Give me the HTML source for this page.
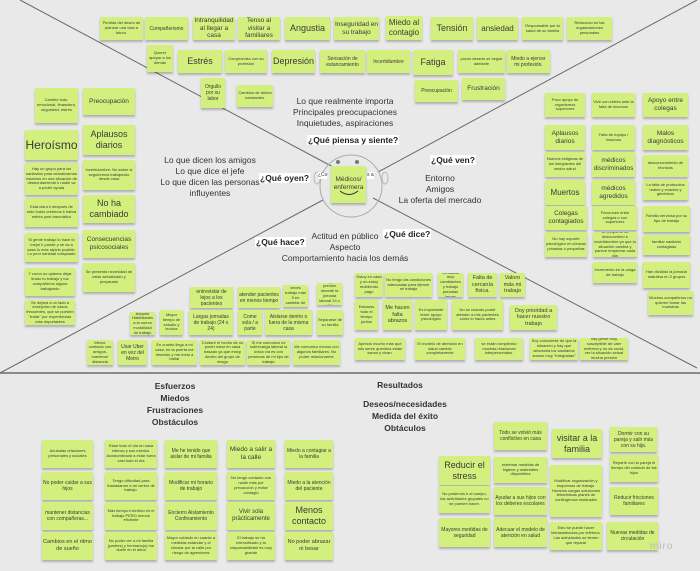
<!DOCTYPE html>
<html><head><meta charset="utf-8"><style>
body{margin:0;width:700px;height:571px;background:#e9e9e9;position:relative;overflow:hidden;font-family:"Liberation Sans",sans-serif;color:#3a3a3a}
.n{position:absolute;background:#d3ef7d;display:flex;align-items:center;justify-content:center;text-align:center;line-height:1.2;box-shadow:0 2px 2px rgba(0,0,0,.25);font-size:4px;overflow:hidden;padding:1px;box-sizing:border-box}
.m{font-size:6.5px}.b{font-size:9px}.B{font-size:12px}
.t{position:absolute;text-align:center;font-size:8.5px;line-height:11px;color:#333}
.h{position:absolute;font-weight:bold;font-size:8.5px;color:#222;background:#fff;padding:0 1px}
</style></head><body>
<svg width="700" height="571" style="position:absolute;left:0;top:0">
<g stroke="#6a6a6a" stroke-width="1" fill="none">
<line x1="20" y1="0" x2="335" y2="168"/>
<line x1="697" y1="0" x2="378" y2="172"/>
<line x1="323" y1="200" x2="0" y2="373"/>
<line x1="373" y1="198" x2="697" y2="368"/>
<line x1="0" y1="373" x2="700" y2="373" stroke-width="1.5"/>
<circle cx="351" cy="186" r="31" stroke="#aaa"/>
<ellipse cx="317" cy="178" rx="3" ry="6" stroke="#bbb"/>
<ellipse cx="385" cy="178" rx="3" ry="6" stroke="#bbb"/>
</g>
<circle cx="338" cy="162" r="2" fill="#777"/><circle cx="357" cy="162" r="2" fill="#777"/>
</svg>
<div class="n m" style="left:331px;top:166px;width:35px;height:37px;align-items:flex-start;padding-top:10px">Médicos/ enfermera</div>
<svg width="20" height="8" style="position:absolute;left:339px;top:190px"><path d="M1 1 Q10 8 19 1" stroke="#333" fill="none"/></svg>
<div class="t" style="left:318px;top:172px;font-size:5px;background:#fff;line-height:7px">¿Co</div>
<div class="t" style="left:367px;top:172px;font-size:5px;background:#fff;line-height:7px">s a</div>

<!-- top rows -->
<div class="n" style="left:100px;top:17px;width:43px;height:23px">Perdida del deseo de planear una vida a futuro.</div>
<div class="n" style="left:145px;top:17px;width:43px;height:23px;font-size:5px">Compañerismo</div>
<div class="n m" style="left:193px;top:17px;width:42px;height:23px">Intranquilidad al llegar a casa</div>
<div class="n m" style="left:238px;top:17px;width:42px;height:23px">Tenso al visitar a familiares</div>
<div class="n b" style="left:285px;top:17px;width:45px;height:23px">Angustia</div>
<div class="n m" style="left:334px;top:17px;width:45px;height:23px">Inseguridad en su trabajo</div>
<div class="n b" style="left:386px;top:16px;width:36px;height:24px;font-size:8px">Miedo al contagio</div>
<div class="n b" style="left:431px;top:17px;width:42px;height:23px">Tensión</div>
<div class="n b" style="left:477px;top:17px;width:41px;height:23px;font-size:8px">ansiedad</div>
<div class="n" style="left:522px;top:17px;width:41px;height:23px">Responsable por la salud de su familia</div>
<div class="n" style="left:567px;top:17px;width:45px;height:23px">Retroceso en las organizaciones personales</div>

<div class="n" style="left:147px;top:45px;width:26px;height:27px">Querer apoyar a los demás</div>
<div class="n b" style="left:178px;top:50px;width:44px;height:23px">Estrés</div>
<div class="n" style="left:225px;top:50px;width:42px;height:23px">Compromiso con su profesión</div>
<div class="n b" style="left:272px;top:50px;width:43px;height:23px">Depresión</div>
<div class="n" style="left:320px;top:50px;width:45px;height:23px;font-size:5px">Sensación de estancamiento</div>
<div class="n" style="left:367px;top:50px;width:43px;height:23px;font-size:5px">Incertidumbre</div>
<div class="n b" style="left:413px;top:50px;width:40px;height:25px">Fatiga</div>
<div class="n" style="left:458px;top:50px;width:47px;height:23px">pocos deseos se seguir adelante</div>
<div class="n" style="left:507px;top:50px;width:43px;height:23px;font-size:5px">Miedo a ejercer mi profesión.</div>
<div class="n" style="left:201px;top:78px;width:24px;height:30px;font-size:5px">Orgullo por su labor</div>
<div class="n" style="left:237px;top:85px;width:36px;height:22px">Cambios de ánimo constantes.</div>
<div class="n" style="left:415px;top:80px;width:43px;height:22px;font-size:5px">Preocupación</div>
<div class="n m" style="left:462px;top:78px;width:43px;height:22px">Frustración</div>

<div class="t" style="left:265px;top:96px;width:160px">Lo que realmente importa<br>Principales preocupaciones<br>Inquietudes, aspiraciones</div>
<div class="h" style="left:307px;top:135px">¿Qué piensa y siente?</div>

<!-- left -->
<div class="n" style="left:35px;top:88px;width:43px;height:35px">Cambió todo, emocional, financiera, seguridad, estrés</div>
<div class="n m" style="left:83px;top:88px;width:52px;height:27px">Preocupación</div>
<div class="n B" style="left:25px;top:130px;width:53px;height:30px">Heroísmo</div>
<div class="n b" style="left:83px;top:125px;width:52px;height:30px">Aplausos diarios</div>
<div class="n" style="left:25px;top:163px;width:53px;height:32px">Hay un grupo para los sanitarios para actualizarnos estamos en una situación de desbordamiento k nadie va a poder ayuda</div>
<div class="n" style="left:83px;top:160px;width:52px;height:30px">Incertidumbre: No saber si seguiremos trabajando desde casa</div>
<div class="n" style="left:25px;top:198px;width:53px;height:29px">Está claro k después de esto todos creemos k habrá estrés post traumático</div>
<div class="n b" style="left:83px;top:195px;width:52px;height:28px">No ha cambiado</div>
<div class="n" style="left:25px;top:233px;width:53px;height:29px">Si gente trabajo lo hace lo mejor k puede y se va a casa lo más rápido posible. Lo peor sanidad colapsado</div>
<div class="n m" style="left:83px;top:230px;width:52px;height:28px">Consecuencias psicosociales</div>
<div class="n" style="left:25px;top:268px;width:50px;height:28px">Y como no quieres dejar tirado tu trabajo y tus compañeros sigues trabajando</div>
<div class="n" style="left:83px;top:263px;width:52px;height:29px">Se presenta necesidad de estar actualizado y preparado</div>
<div class="n" style="left:25px;top:300px;width:50px;height:25px">Se dejará a un lado a excepción de casos frecuentes, que se pueden "tratar" por experiencias más importantes</div>

<div class="t" style="left:160px;top:155px;width:100px">Lo que dicen los amigos<br>Lo que dice el jefe<br>Lo que dicen las personas influyentes</div>
<div class="h" style="left:259px;top:173px">¿Qué oyen?</div>
<div class="h" style="left:255px;top:237px">¿Qué hace?</div>
<div class="t" style="left:270px;top:231px;width:150px">Actitud en público<br>Aspecto<br>Comportamiento hacia los demás</div>
<div class="h" style="left:383px;top:229px">¿Qué dice?</div>
<div class="h" style="left:430px;top:155px">¿Qué ven?</div>
<div class="t" style="left:395px;top:173px;width:90px">Entorno<br>Amigos<br>La oferta del mercado</div>

<!-- right -->
<div class="n" style="left:545px;top:93px;width:40px;height:24px">Poco apoyo de organismos superiores</div>
<div class="n" style="left:592px;top:93px;width:43px;height:24px">Vivir con estrés ante la falta de insumos</div>
<div class="n m" style="left:643px;top:93px;width:45px;height:24px">Apoyo entre colegas</div>
<div class="n m" style="left:545px;top:125px;width:40px;height:25px">Aplausos diarios</div>
<div class="n" style="left:592px;top:125px;width:43px;height:25px">Falta de equipo / insumos</div>
<div class="n m" style="left:643px;top:125px;width:45px;height:25px">Malos diagnósticos</div>
<div class="n" style="left:545px;top:152px;width:40px;height:25px">Nuevos estigmas de los integrantes del sector salud</div>
<div class="n m" style="left:592px;top:152px;width:43px;height:25px">médicos discriminados</div>
<div class="n" style="left:643px;top:155px;width:45px;height:22px">desconocimiento de técnicas</div>
<div class="n b" style="left:545px;top:180px;width:40px;height:25px;font-size:8px">Muertos</div>
<div class="n m" style="left:592px;top:180px;width:43px;height:25px">médicos agredidos</div>
<div class="n" style="left:643px;top:180px;width:45px;height:20px">La falta de protocolos reales y exactos y genéricos</div>
<div class="n m" style="left:545px;top:206px;width:42px;height:24px">Colegas contagiados</div>
<div class="n" style="left:593px;top:206px;width:44px;height:24px">Fricciones entre colegas o con superiores</div>
<div class="n" style="left:643px;top:206px;width:47px;height:26px">Familia nerviosa por su tipo de trabajo</div>
<div class="n" style="left:545px;top:232px;width:42px;height:25px">No hay soporte psicológico en clínicas privadas o pequeñas</div>
<div class="n" style="left:593px;top:232px;width:44px;height:25px">Un pequeño de desconcierto e incertidumbre ya que la situación cambia y parece empeorar cada día</div>
<div class="n" style="left:643px;top:235px;width:47px;height:20px">familiar sanitario contagiado</div>
<div class="n" style="left:593px;top:262px;width:44px;height:21px">Incremento en la carga de trabajo</div>
<div class="n" style="left:643px;top:262px;width:47px;height:26px">Han dividido la jornada matutina en 2 grupos</div>
<div class="n" style="left:648px;top:291px;width:45px;height:24px">Muchos compañeros no quieren tomar las muestras</div>

<!-- qué dice -->
<div class="n" style="left:355px;top:273px;width:28px;height:24px">Estoy en casa y no estoy recibiendo pago</div>
<div class="n" style="left:385px;top:273px;width:47px;height:24px">No tengo las condiciones adecuadas para ejercer mi trabajo</div>
<div class="n" style="left:438px;top:273px;width:25px;height:24px">Jornadas muy cambiantes y trabajo jornadas largas</div>
<div class="n" style="left:468px;top:273px;width:29px;height:24px;font-size:5.5px">Falta de cercanía física.</div>
<div class="n" style="left:500px;top:273px;width:25px;height:24px;font-size:5.5px">Valoro más mi trabajo</div>
<div class="n" style="left:355px;top:300px;width:23px;height:30px">Estamos todo el tiempo juntos</div>
<div class="n" style="left:383px;top:300px;width:29px;height:30px;font-size:5.5px">Me hacen falta abrazos</div>
<div class="n" style="left:415px;top:300px;width:32px;height:30px">Es importante tener apoyo psicológico</div>
<div class="n" style="left:452px;top:300px;width:51px;height:30px">No sé cuando podré atender a mis pacientes cómo lo hacía antes</div>
<div class="n" style="left:510px;top:305px;width:47px;height:25px;font-size:5.5px">Doy prioridad a hacer nuestro trabajo</div>
<div class="n" style="left:355px;top:338px;width:50px;height:22px">Aprecio mucho más que mis seres queridos están sanos y vivan.</div>
<div class="n" style="left:415px;top:338px;width:50px;height:22px">El modelo de atención en salud cambió completamente</div>
<div class="n" style="left:475px;top:338px;width:48px;height:22px">se están rompiendo muchas relaciones interpersonales.</div>
<div class="n" style="left:530px;top:338px;width:48px;height:22px">Soy consciente de que la situación y hay que afrontarla los sanitarios somos muy "integradas"</div>
<div class="n" style="left:580px;top:338px;width:48px;height:22px">hay gente muy susceptible de caer enferma y no es covid, ver la situación actual mucha presión</div>

<!-- qué hace -->
<div class="n" style="left:190px;top:287px;width:43px;height:21px;font-size:5px">entrevistar de lejos a los pacientes</div>
<div class="n" style="left:238px;top:287px;width:42px;height:21px;font-size:5px">atender pacientes en menos tiempo</div>
<div class="n" style="left:283px;top:285px;width:25px;height:22px">Hacer 5 veces trabajo más 5 en cambiar de área</div>
<div class="n" style="left:317px;top:283px;width:25px;height:22px">Mayor presión durante la jornada laboral 24 x 24</div>
<div class="n" style="left:130px;top:312px;width:25px;height:23px">Adquirir Habilidades a la nueva modalidad de trabajo</div>
<div class="n" style="left:160px;top:310px;width:23px;height:25px">Mayor tiempo de estudio y lectura</div>
<div class="n" style="left:189px;top:310px;width:44px;height:25px;font-size:5px">Largas jornadas de trabajo (24 x 24)</div>
<div class="n" style="left:238px;top:310px;width:24px;height:25px;font-size:5px">Come sola / a parte</div>
<div class="n" style="left:265px;top:310px;width:47px;height:25px;font-size:5px">Aislarse dentro o fuera de la misma casa</div>
<div class="n" style="left:317px;top:310px;width:26px;height:25px">Separarse de su familia</div>
<div class="n" style="left:87px;top:340px;width:26px;height:25px">Menor contacto con amigos, mantener distancia</div>
<div class="n" style="left:118px;top:340px;width:29px;height:25px;font-size:5px">Usar Uber en vez del Metro</div>
<div class="n" style="left:152px;top:340px;width:45px;height:25px">En cuanto llego a mi casa, en la puerta me desvisto y me meto a bañar</div>
<div class="n" style="left:200px;top:340px;width:45px;height:25px">Contaré el hecho de no poder estar en casa basado ya que estoy dentro del grupo de riesgo</div>
<div class="n" style="left:247px;top:340px;width:43px;height:25px">Si me comunico mi sobrecarga laboral la única vía es con personas de mi tipo de trabajo</div>
<div class="n" style="left:293px;top:340px;width:47px;height:25px">Me comunico menos con algunos familiares. No poder relacionarme</div>

<!-- bottom left -->
<div class="t" style="left:125px;top:380px;width:100px;font-weight:bold;line-height:12px">Esfuerzos<br>Miedos<br>Frustraciones<br>Obstáculos</div>
<div class="n" style="left:42px;top:440px;width:51px;height:28px">Anuladas relaciones personales y sociales</div>
<div class="n" style="left:105px;top:440px;width:52px;height:28px">Estar todo el día en casa intenso y sus miedos. Acostumbrada a estar fuera casi todo el día</div>
<div class="n" style="left:165px;top:440px;width:52px;height:28px;font-size:5px">Me he tenido que aislar de mi familia</div>
<div class="n m" style="left:227px;top:440px;width:48px;height:28px">Miedo a salir a la calle</div>
<div class="n" style="left:285px;top:440px;width:48px;height:28px;font-size:5px">Miedo a contagiar a la familia</div>
<div class="n" style="left:42px;top:472px;width:51px;height:28px;font-size:5px">No poder cuidar a sus hijos</div>
<div class="n" style="left:105px;top:472px;width:52px;height:28px">Tengo dificultad para trasladarme a mi centro de trabajo.</div>
<div class="n" style="left:165px;top:472px;width:52px;height:28px;font-size:5px">Modificar mi horario de trabajo</div>
<div class="n" style="left:227px;top:472px;width:48px;height:28px">No tengo contacto con nadie más por precaución y evitar contagio</div>
<div class="n" style="left:285px;top:472px;width:48px;height:28px;font-size:5px">Miedo a la atención del paciente</div>
<div class="n" style="left:42px;top:502px;width:51px;height:28px;font-size:5px">mantener distancias con compañeras...</div>
<div class="n" style="left:105px;top:502px;width:52px;height:28px">Más tiempo invertido en el trabajo PERO menos eficiente</div>
<div class="n" style="left:165px;top:502px;width:52px;height:28px;font-size:5px">Encierro Aislamiento Confinamiento</div>
<div class="n" style="left:227px;top:502px;width:48px;height:28px;font-size:6px">Vivir sola prácticamente</div>
<div class="n b" style="left:285px;top:502px;width:48px;height:28px">Menos contacto</div>
<div class="n" style="left:42px;top:532px;width:51px;height:28px;font-size:5.5px">Cambios en el ritmo de sueño</div>
<div class="n" style="left:105px;top:532px;width:52px;height:28px">No poder ver a mi familia (padres) y hermano(s) me duele en el alma</div>
<div class="n" style="left:165px;top:532px;width:52px;height:28px">Mayor cuidado en cuanto a medidas estándar y el circular por la calle por riesgo de agresiones</div>
<div class="n" style="left:227px;top:532px;width:48px;height:28px">El trabajo se ha intensificado y la responsabilidad es muy grande</div>
<div class="n" style="left:285px;top:532px;width:48px;height:28px;font-size:5.5px">No poder abrazar ni besar</div>

<!-- bottom right -->
<div class="t" style="left:370px;top:380px;width:60px;font-weight:bold">Resultados</div>
<div class="t" style="left:360px;top:398px;width:90px;font-weight:bold;line-height:12px">Deseos/necesidades<br>Medida del éxito<br>Obtáculos</div>
<div class="n" style="left:494px;top:422px;width:53px;height:28px;font-size:5px">Todo se volvió más conflictivo en casa</div>
<div class="n b" style="left:552px;top:429px;width:50px;height:29px">visitar a la familia</div>
<div class="n" style="left:610px;top:427px;width:47px;height:25px;font-size:5px">Dormir con su pareja y salir más con su hija.</div>
<div class="n b" style="left:439px;top:456px;width:51px;height:29px">Reducir el stress</div>
<div class="n" style="left:494px;top:457px;width:53px;height:26px">extremar medidas de higiene y materiales disponibles</div>
<div class="n" style="left:550px;top:465px;width:52px;height:52px">Modificar organización y esquemas de trabajo. Horarios cargas soluciones telemáticas planes de contingencia residuales</div>
<div class="n" style="left:610px;top:455px;width:48px;height:27px">Repartir con la pareja el tiempo del cuidado de los hijos</div>
<div class="n" style="left:439px;top:486px;width:51px;height:27px">No podemos ir al campo, las actividades grupales no se pueden hacer.</div>
<div class="n" style="left:494px;top:487px;width:53px;height:28px;font-size:5px">Ayudar a sus hijos con los deberes escolares</div>
<div class="n" style="left:610px;top:487px;width:48px;height:28px;font-size:5px">Reducir fricciones familiares</div>
<div class="n" style="left:439px;top:518px;width:51px;height:29px;font-size:5px">Mayores medidas de seguridad</div>
<div class="n" style="left:494px;top:518px;width:53px;height:29px;font-size:5px">Adecuar el modelo de atención en salud</div>
<div class="n" style="left:550px;top:522px;width:52px;height:28px">Esto se puede hacer teleasistencias por teléfono. Las actividades se tienen que reparar</div>
<div class="n" style="left:607px;top:522px;width:51px;height:28px;font-size:5px">Nuevas medidas de circulación</div>
<div class="t" style="left:650px;top:541px;font-size:10px;color:#bbb;letter-spacing:1px">miro</div>
</body></html>
